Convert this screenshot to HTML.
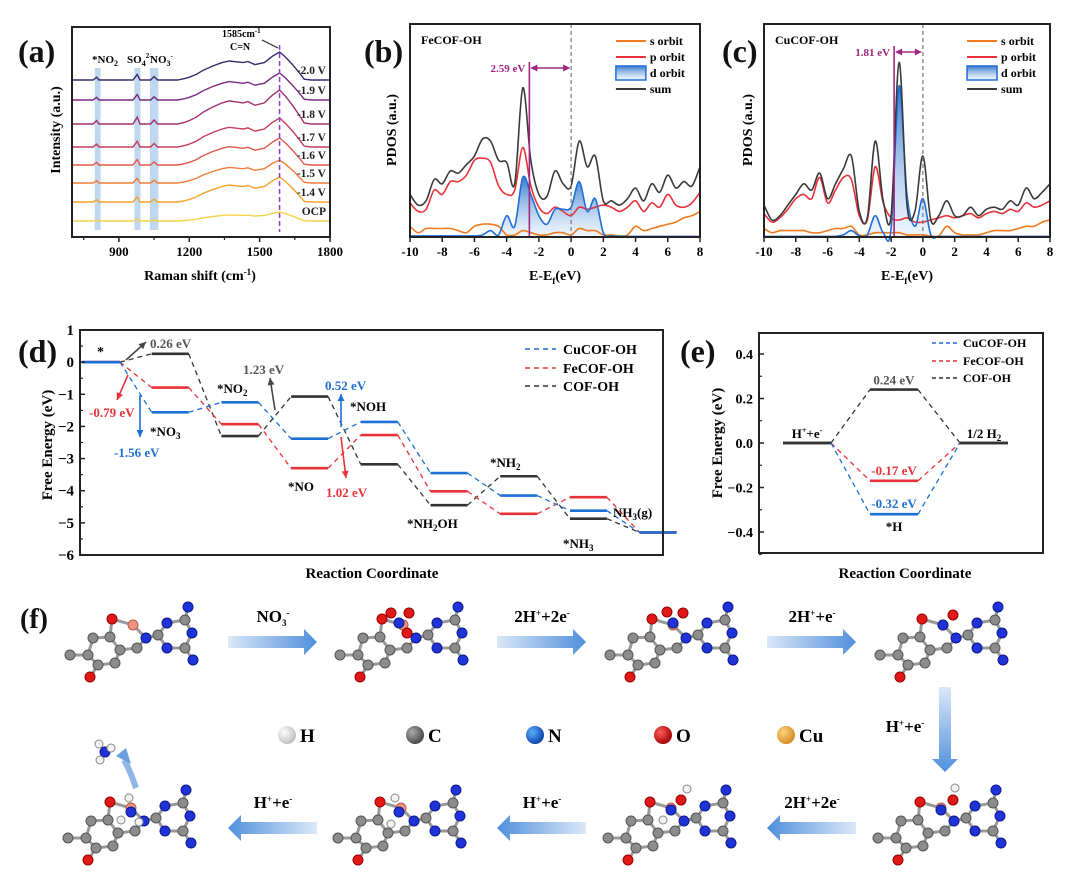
<!DOCTYPE html>
<html><head><meta charset="utf-8">
<style>
html,body{margin:0;padding:0;background:#fff;}
svg{display:block;font-family:"Liberation Serif",serif;font-weight:bold;}
</style></head>
<body>
<svg id="fig" width="1080" height="879" viewBox="0 0 1080 879" xmlns="http://www.w3.org/2000/svg">
<defs>
<linearGradient id="dgrad" x1="0" y1="0" x2="0" y2="1"><stop offset="0" stop-color="#2f74d0" stop-opacity="0.95"/><stop offset="1" stop-color="#e3eefb" stop-opacity="0.5"/></linearGradient>
<linearGradient id="arR" x1="0" y1="0" x2="1" y2="0"><stop offset="0" stop-color="#dbe8f8"/><stop offset="1" stop-color="#4f8fdc"/></linearGradient>
<linearGradient id="arL" x1="1" y1="0" x2="0" y2="0"><stop offset="0" stop-color="#dbe8f8"/><stop offset="1" stop-color="#4f8fdc"/></linearGradient>
<linearGradient id="arD" x1="0" y1="0" x2="0" y2="1"><stop offset="0" stop-color="#dbe8f8"/><stop offset="1" stop-color="#4f8fdc"/></linearGradient>
<radialGradient id="sH" cx="0.35" cy="0.35" r="0.7"><stop offset="0" stop-color="#fff"/><stop offset="1" stop-color="#bbb"/></radialGradient>
<radialGradient id="sC" cx="0.35" cy="0.35" r="0.7"><stop offset="0" stop-color="#aaa"/><stop offset="1" stop-color="#444"/></radialGradient>
<radialGradient id="sN" cx="0.35" cy="0.35" r="0.7"><stop offset="0" stop-color="#5ab0ff"/><stop offset="1" stop-color="#0a3fa8"/></radialGradient>
<radialGradient id="sO" cx="0.35" cy="0.35" r="0.7"><stop offset="0" stop-color="#ff5a5a"/><stop offset="1" stop-color="#a00000"/></radialGradient>
<radialGradient id="sCu" cx="0.35" cy="0.35" r="0.7"><stop offset="0" stop-color="#ffd27a"/><stop offset="1" stop-color="#d08a20"/></radialGradient>
</defs>
</svg>
<script>
// ---------- DATA ----------
// (a) Raman
const ramanX = [700,790,805,815,960,978,990,1035,1050,1065,1150,1180,1200,1230,1260,1300,1340,1370,1400,1430,1450,1480,1520,1555,1585,1610,1640,1670,1690,1720,1800];
const ramanProfile = [0,0,0.1,0,0,0.2,0,0,0.12,0,0,0.05,0.1,0.2,0.35,0.5,0.62,0.68,0.65,0.62,0.66,0.55,0.62,0.85,1.0,0.82,0.55,0.25,0.03,0,0];
const ramanLabels = ["OCP","-1.4 V","-1.5 V","-1.6 V","-1.7 V","-1.8 V","-1.9 V","-2.0 V"];
const ramanOffsets = [16,35,54,72,90,113,137,157];
const ramanAmps = [9,25,23,27,29,34,27,28];
const ramanColors = ["#f3d24a","#f4a12a","#ef7d38","#e0584a","#c43e5c","#a33070","#7a2a80","#3b2a6e"];
const ramanTicks = [900,1200,1500,1800];
// (b),(c) PDOS
const pdosE = [-10,-9.5,-9,-8.5,-8,-7.5,-7,-6.5,-6,-5.5,-5,-4.5,-4,-3.5,-3,-2.5,-2,-1.5,-1,-0.5,0,0.5,1,1.5,2,2.5,3,3.5,4,4.5,5,5.5,6,6.5,7,7.5,8];
const feSum = [20,15,17,27,25,31,30,34,38,46,45,36,35,25,70,36,20,19,31,25,24,45,33,38,17,17,15,18,23,17,25,21,29,23,26,24,33];
const feP = [16,12,13,22,20,26,26,29,36,37,35,24,20,22,42,24,14,11,14,12,10,14,13,14,15,14,12,14,17,12,16,14,20,15,14,16,21];
const feS = [5,2,4,4,4,4,3,2,5,6,6,5,1,1,3,2,1,1,2,2,1,4,3,3,1,1,0.5,1,5,3,4,5,6,7,9,10,12];
const feD = [0.5,0.5,0.5,0.5,0.5,0.5,0.5,0.5,0.5,1,3,1,10,5,28,20,10,6,13,13,14,26,12,18,2,0.5,0.3,0.3,0.3,0.3,0.3,0.3,0.3,0.3,0.3,0.3,0.3];
const cuSum = [15,8,10,15,20,25,22,30,18,25,32,38,12,9,45,17,10,82,15,12,38,8,10,17,10,10,14,10,13,14,13,17,15,23,18,21,25];
const cuP = [11,7,9,13,18,20,18,28,16,22,28,27,10,8,33,16,9,8,9,7,7,8,9,10,9,10,11,9,11,12,11,13,12,16,14,15,17];
const cuS = [4,2,3,3,3,3,2,2,3,4,4,5,1,1,2,2,2,2,1,1,1,0.5,0.5,5,2,1,1,1,2,3,3,3,4,5,5,7,8];
const cuD = [0.3,0.3,0.3,0.3,0.3,0.3,0.3,0.3,0.3,0.3,1,3,0.5,1,10,2,4,71,20,5,18,1,0.3,0.3,0.3,0.3,0.3,0.3,0.3,0.3,0.3,0.3,0.3,0.3,0.3,0.3,0.3];
const dBandFe = -2.59;
const dBandCu = -1.81;
const pdosTicks = [-10,-8,-6,-4,-2,0,2,4,6,8];
// (d) free energy NO3RR
const stepNames = ["*","*NO3","*NO2","*NO","*NOH","*NH2OH","*NH2","*NH3","NH3(g)"];
const cuG = [0,-1.56,-1.25,-2.38,-1.86,-3.45,-4.15,-4.62,-5.3];
const feG = [0,-0.79,-1.93,-3.3,-2.27,-4.02,-4.72,-4.2,-5.3];
const cofG = [0,0.26,-2.3,-1.07,-3.18,-4.45,-3.55,-4.87,-5.3];
const dTicks = [1,0,-1,-2,-3,-4,-5,-6];
// (e) HER
const herCu = [0,-0.32,0];
const herFe = [0,-0.17,0];
const herCof = [0,0.24,0];
const eTicks = [0.4,0.2,0.0,-0.2,-0.4];

// ---------- HELPERS ----------
const svg = document.getElementById('fig');
const NS = 'http://www.w3.org/2000/svg';
function mk(tag, attrs, parent){
  const el = document.createElementNS(NS, tag);
  for (const k in attrs) el.setAttribute(k, attrs[k]);
  (parent||svg).appendChild(el);
  return el;
}
function tag(el, name, inter){
  
  
  return el;
}
function txt(x,y,s,size,opts,name){
  const t = mk('text', Object.assign({x:x,y:y,'font-size':size}, opts||{}));
  t.innerHTML = s;
  tag(t, name||'label');
  return t;
}
function lin(d0,d1,r0,r1){ return v => r0 + (v-d0)*(r1-r0)/(d1-d0); }
function frame(x0,y0,x1,y1,name){
  const r = mk('rect',{x:x0,y:y0,width:x1-x0,height:y1-y0,fill:'none',stroke:'#222','stroke-width':2});
  tag(r, name);
}
function smooth(pts){
  let d = 'M'+pts[0][0].toFixed(1)+','+pts[0][1].toFixed(1);
  for(let i=0;i<pts.length-1;i++){
    const p0=pts[i-1]||pts[i], p1=pts[i], p2=pts[i+1], p3=pts[i+2]||p2;
    const c1x=p1[0]+(p2[0]-p0[0])/6, c1y=p1[1]+(p2[1]-p0[1])/6;
    const c2x=p2[0]-(p3[0]-p1[0])/6, c2y=p2[1]-(p3[1]-p1[1])/6;
    d += 'C'+c1x.toFixed(1)+','+c1y.toFixed(1)+' '+c2x.toFixed(1)+','+c2y.toFixed(1)+' '+p2[0].toFixed(1)+','+p2[1].toFixed(1);
  }
  return d;
}

// ---------- PANEL LABELS ----------
[['(a)',18,62,32],['(b)',364,62,32],['(c)',722,62,32],['(d)',18,362,32],['(e)',680,362,32],['(f)',20,628,28]].forEach(p=>{
  txt(p[1],p[2],p[0],p[3],{fill:'#111'},'panel-label');
});

// ---------- (a) RAMAN ----------
(function(){
  const g = mk('g',{}); tag(g,'raman-chart');
  const X0=72,X1=330,Y0=27,Y1=237;
  const sx = lin(700,1800,X0,X1);
  const sy = v => Y1 - v;
  [[797,822],[966,992],[1032,1068]].forEach((b,i)=>{
    const r = mk('rect',{x:sx(b[0]),y:68,width:sx(b[1])-sx(b[0]),height:162,fill:'#a9c9ea',opacity:0.75},g);
    tag(r,'raman-band-'+i);
  });
  ramanLabels.forEach((lab,i)=>{
    let d='';
    ramanX.forEach((w,j)=>{
      d += (j?'L':'M') + sx(w).toFixed(1) + ',' + sy(ramanOffsets[i] + ramanAmps[i]*ramanProfile[j]).toFixed(1);
    });
    const p = mk('path',{d:d,fill:'none',stroke:ramanColors[i],'stroke-width':1.4},g);
    tag(p,'raman-spectrum');
    txt(326, sy(ramanOffsets[i])-6, lab, 11.5, {'text-anchor':'end',fill:'#222'}, 'voltage-label');
  });
  const dl = mk('line',{x1:sx(1585),x2:sx(1585),y1:45,y2:232,stroke:'#8a3fd0','stroke-width':1.5,'stroke-dasharray':'5,3'},g);
  tag(dl,'cn-peak-line');
  frame(X0,Y0,X1,Y1,'raman-frame');
  ramanTicks.forEach(v=>{
    const l = mk('line',{x1:sx(v),x2:sx(v),y1:Y1,y2:Y1+5,stroke:'#222','stroke-width':1.5},g); tag(l,'x-tick');
    txt(sx(v),Y1+19,v,13,{'text-anchor':'middle'},'x-tick-label');
  });
  [750,1050,1350,1650].forEach(v=>{
    const l = mk('line',{x1:sx(v),x2:sx(v),y1:Y1,y2:Y1+3,stroke:'#222','stroke-width':1.2},g); tag(l,'x-minor-tick');
  });
  txt(200,280,'Raman shift (cm<tspan dy="-5" font-size="9">-1</tspan><tspan dy="5">)</tspan>',14,{'text-anchor':'middle'},'x-axis-title');
  txt(0,0,'Intensity (a.u.)',14,{'text-anchor':'middle',transform:'translate(60,130) rotate(-90)'},'y-axis-title');
  txt(92,63,'*NO<tspan font-size="8" dy="3">2</tspan>',11,{},'no2-label');
  txt(127,63,'SO<tspan font-size="8" dy="3">4</tspan><tspan font-size="7" dy="-8">2-</tspan>',11,{},'so4-label');
  txt(150,63,'NO<tspan font-size="8" dy="3">3</tspan><tspan font-size="7" dy="-8">-</tspan>',11,{},'no3-label');
  txt(222,37,'1585cm<tspan font-size="7" dy="-4">-1</tspan>',10,{},'peak-label');
  txt(230,50,'C=N',10,{},'cn-label');
  const ar = mk('line',{x1:262,y1:40,x2:278,y2:48,stroke:'#222','stroke-width':1},g); tag(ar,'peak-arrow');
})();

// ---------- (b),(c) PDOS ----------
function pdos(X0,X1,title,sumA,pA,sA,dA,dband,name,ytitleX){
  const g = mk('g',{}); tag(g,name);
  const Y0=24,Y1=237;
  const sx = lin(-10,8,X0,X1);
  const sy = lin(0,100,Y1,Y0);
  function path(arr){ return smooth(pdosE.map((e,i)=>[sx(e), Math.min(Y1, sy(arr[i]))])); }
  const fill = mk('path',{d:path(dA)+'L'+sx(8)+','+sy(0)+'L'+sx(-10)+','+sy(0)+'Z',fill:'url(#dgrad)',stroke:'none'},g); tag(fill,'d-orbit-fill');
  const sl = mk('path',{d:path(sA),fill:'none',stroke:'#f07a1e','stroke-width':1.6},g); tag(sl,'s-orbit-line');
  const pl = mk('path',{d:path(pA),fill:'none',stroke:'#e8323a','stroke-width':1.6},g); tag(pl,'p-orbit-line');
  const dl = mk('path',{d:path(dA),fill:'none',stroke:'#1e6fd6','stroke-width':1.6},g); tag(dl,'d-orbit-line');
  const su = mk('path',{d:path(sumA),fill:'none',stroke:'#3a3a3a','stroke-width':1.6},g); tag(su,'sum-line');
  const fl = mk('line',{x1:sx(0),x2:sx(0),y1:Y0,y2:Y1,stroke:'#777','stroke-width':1.2,'stroke-dasharray':'4,3'},g); tag(fl,'fermi-level-line');
  const topY = name==='pdos-fe'?62:46;
  const bl = mk('line',{x1:sx(dband),x2:sx(dband),y1:topY,y2:Y1,stroke:'#a0267e','stroke-width':1.6},g); tag(bl,'d-band-center-line');
  const ay = topY+6;
  const al = mk('line',{x1:sx(dband)+2,x2:sx(0)-2,y1:ay,y2:ay,stroke:'#a0267e','stroke-width':1.5},g); tag(al,'d-band-arrow');
  const h1 = mk('path',{d:`M${sx(dband)+1},${ay}l7,-3.5v7z`,fill:'#a0267e'},g); tag(h1,'arrow-head');
  const h2 = mk('path',{d:`M${sx(0)-1},${ay}l-7,-3.5v7z`,fill:'#a0267e'},g); tag(h2,'arrow-head');
  txt(sx(dband)-4,ay+4,Math.abs(dband).toFixed(2)+' eV',11,{'text-anchor':'end',fill:'#a0267e'},'d-band-value');
  frame(X0,Y0,X1,Y1,name+'-frame');
  pdosTicks.forEach(v=>{
    const l = mk('line',{x1:sx(v),x2:sx(v),y1:Y1,y2:Y1+5,stroke:'#222','stroke-width':1.5},g); tag(l,'x-tick');
    txt(sx(v),Y1+19,v,13,{'text-anchor':'middle'},'x-tick-label');
  });
  txt((X0+X1)/2,280,'E-E<tspan font-size="9" dy="4">f</tspan><tspan dy="-4">(eV)</tspan>',14,{'text-anchor':'middle'},'x-axis-title');
  txt(0,0,'PDOS (a.u.)',14,{'text-anchor':'middle',transform:`translate(${ytitleX},130) rotate(-90)`},'y-axis-title');
  txt(X0+11,44,title,12,{},'system-label');
  const lx = X0+(X1-X0)*0.71;
  const ls = mk('line',{x1:lx,x2:lx+30,y1:41,y2:41,stroke:'#f07a1e','stroke-width':2},g); tag(ls,'legend-s-swatch');
  txt(lx+34,45,'s orbit',12,{},'legend-s');
  const lp = mk('line',{x1:lx,x2:lx+30,y1:57,y2:57,stroke:'#e8323a','stroke-width':2},g); tag(lp,'legend-p-swatch');
  txt(lx+34,61,'p orbit',12,{},'legend-p');
  const ld = mk('rect',{x:lx,y:66,width:30,height:14,fill:'url(#dgrad)',stroke:'#1e6fd6','stroke-width':1.5},g); tag(ld,'legend-d-swatch');
  txt(lx+34,77,'d orbit',12,{},'legend-d');
  const lsum = mk('line',{x1:lx,x2:lx+30,y1:89,y2:89,stroke:'#3a3a3a','stroke-width':2},g); tag(lsum,'legend-sum-swatch');
  txt(lx+34,93,'sum',12,{},'legend-sum');
}
pdos(410,700,'FeCOF-OH',feSum,feP,feS,feD,dBandFe,'pdos-fe',396);
pdos(764,1050,'CuCOF-OH',cuSum,cuP,cuS,cuD,dBandCu,'pdos-cu',752);

// ---------- (d) FREE ENERGY ----------
(function(){
  const g = mk('g',{}); tag(g,'free-energy-chart');
  const X0=80,X1=663,Y0=330,Y1=555;
  const sy = lin(1,-6,Y0,Y1);
  const stepW = 69.7, lvlW = 37;
  const xs = i => 82 + i*stepW;
  const series = [[cofG,'#333','cof'],[feG,'#e8323a','fe'],[cuG,'#1e6fd6','cu']];
  series.forEach(s=>{
    const arr=s[0];
    arr.forEach((v,i)=>{
      const w = (i===0)? 38 : lvlW;
      const l = mk('line',{x1:xs(i),x2:xs(i)+w,y1:sy(v),y2:sy(v),stroke:s[1],'stroke-width':2.6},g); tag(l,'level-'+s[2]);
      if(i<arr.length-1){
        const c = mk('line',{x1:xs(i)+w,y1:sy(v),x2:xs(i+1),y2:sy(arr[i+1]),stroke:s[1],'stroke-width':1.3,'stroke-dasharray':'5,4'},g); tag(c,'connector-'+s[2]);
      }
    });
  });
  frame(X0,Y0,X1,Y1,'free-energy-frame');
  dTicks.forEach(v=>{
    const l = mk('line',{x1:X0,x2:X0+5,y1:sy(v),y2:sy(v),stroke:'#222','stroke-width':1.5},g); tag(l,'y-tick');
    txt(X0-6,sy(v)+5,v===0?'0':(v>0?v:'\u2212'+Math.abs(v)),15,{'text-anchor':'end'},'y-tick-label');
    if(v>-6){ const m = mk('line',{x1:X0,x2:X0+3,y1:sy(v-0.5),y2:sy(v-0.5),stroke:'#222','stroke-width':1.2},g); tag(m,'y-minor-tick'); }
  });
  txt(372,578,'Reaction Coordinate',15,{'text-anchor':'middle'},'x-axis-title');
  txt(0,0,'Free Energy (eV)',15,{'text-anchor':'middle',transform:'translate(52,445) rotate(-90)'},'y-axis-title');
  [['CuCOF-OH','#1e6fd6',349],['FeCOF-OH','#e8323a',368],['COF-OH','#333',386]].forEach(e=>{
    const l = mk('line',{x1:525,x2:556,y1:e[2],y2:e[2],stroke:e[1],'stroke-width':1.5,'stroke-dasharray':'5,4'},g); tag(l,'legend-swatch');
    txt(563,e[2]+5,e[0],14,{},'legend-entry');
  });
  const A = (x1,y1,x2,y2,c)=>{ const l=mk('line',{x1:x1,y1:y1,x2:x2,y2:y2,stroke:c,'stroke-width':1.6},g); tag(l,'annotation-arrow');
    const ang=Math.atan2(y2-y1,x2-x1); const h=mk('path',{d:`M${x2},${y2}L${x2-7*Math.cos(ang)+3.5*Math.sin(ang)},${y2-7*Math.sin(ang)-3.5*Math.cos(ang)}L${x2-7*Math.cos(ang)-3.5*Math.sin(ang)},${y2-7*Math.sin(ang)+3.5*Math.cos(ang)}Z`,fill:c},g); tag(h,'arrow-head'); };
  A(126,360,146,342,'#444'); A(128,375,117,400,'#e8323a'); A(140,395,140,437,'#1e6fd6');
  A(275,410,270,378,'#444'); A(341,427,341,394,'#1e6fd6'); A(341,437,346,478,'#e8323a');
  txt(97,356,'*',14,{},'step-label');
  txt(150,348,'0.26 eV',13,{fill:'#555'},'energy-label');
  txt(89,417,'-0.79 eV',13,{fill:'#e8323a'},'energy-label');
  txt(114,457,'-1.56 eV',13,{fill:'#1e6fd6'},'energy-label');
  txt(150,436,'*NO<tspan font-size="9" dy="3">3</tspan>',13,{},'step-label');
  txt(217,393,'*NO<tspan font-size="9" dy="3">2</tspan>',13,{},'step-label');
  txt(243,374,'1.23 eV',13,{fill:'#555'},'energy-label');
  txt(325,390,'0.52 eV',13,{fill:'#1e6fd6'},'energy-label');
  txt(350,411,'*NOH',13,{},'step-label');
  txt(288,491,'*NO',13,{},'step-label');
  txt(326,497,'1.02 eV',13,{fill:'#e8323a'},'energy-label');
  txt(490,467,'*NH<tspan font-size="9" dy="3">2</tspan>',13,{},'step-label');
  txt(407,528,'*NH<tspan font-size="9" dy="3">2</tspan><tspan dy="-3">OH</tspan>',13,{},'step-label');
  txt(563,548,'*NH<tspan font-size="9" dy="3">3</tspan>',13,{},'step-label');
  txt(613,517,'NH<tspan font-size="9" dy="3">3</tspan><tspan dy="-3">(g)</tspan>',13,{},'step-label');
})();

// ---------- (e) HER ----------
(function(){
  const g = mk('g',{}); tag(g,'her-chart');
  const X0=759,X1=1043,Y0=333,Y1=553;
  const sy = lin(0,0.4,443,354);
  const lx = [783,870,960], lw = 48;
  [[herCof,'#333','cof'],[herFe,'#e8323a','fe'],[herCu,'#1e6fd6','cu']].forEach(s=>{
    s[0].forEach((v,i)=>{
      const l = mk('line',{x1:lx[i],x2:lx[i]+lw,y1:sy(v),y2:sy(v),stroke:(i===1?s[1]:'#333'),'stroke-width':2.6},g); tag(l,'her-level-'+s[2]);
      if(i<2){ const c = mk('line',{x1:lx[i]+lw,y1:sy(v),x2:lx[i+1],y2:sy(s[0][i+1]),stroke:s[1],'stroke-width':1.3,'stroke-dasharray':'5,4'},g); tag(c,'her-connector-'+s[2]); }
    });
  });
  frame(X0,Y0,X1,Y1,'her-frame');
  eTicks.forEach(v=>{
    const l = mk('line',{x1:X0,x2:X0+5,y1:sy(v),y2:sy(v),stroke:'#222','stroke-width':1.5},g); tag(l,'y-tick');
    txt(X0-6,sy(v)+5,(v<0?'\u2212':'')+Math.abs(v).toFixed(1),14,{'text-anchor':'end'},'y-tick-label');
    const m = mk('line',{x1:X0,x2:X0+3,y1:sy(v-0.1),y2:sy(v-0.1),stroke:'#222','stroke-width':1.2},g); tag(m,'y-minor-tick');
  });
  txt(905,578,'Reaction Coordinate',15,{'text-anchor':'middle'},'x-axis-title');
  txt(0,0,'Free Energy (eV)',15,{'text-anchor':'middle',transform:'translate(722,443) rotate(-90)'},'y-axis-title');
  [['CuCOF-OH','#1e6fd6',343],['FeCOF-OH','#e8323a',361],['COF-OH','#333',378]].forEach(e=>{
    const l = mk('line',{x1:932,x2:959,y1:e[2],y2:e[2],stroke:e[1],'stroke-width':1.5,'stroke-dasharray':'4,3'},g); tag(l,'legend-swatch');
    txt(963,e[2]+4,e[0],12,{},'legend-entry');
  });
  txt(807,438,'H<tspan font-size="8" dy="-5">+</tspan><tspan dy="5">+e</tspan><tspan font-size="8" dy="-5">-</tspan>',13,{'text-anchor':'middle'},'reactant-label');
  txt(984,438,'1/2 H<tspan font-size="9" dy="3">2</tspan>',13,{'text-anchor':'middle'},'product-label');
  txt(894,sy(herCof[1])-5,herCof[1].toFixed(2)+' eV',13,{'text-anchor':'middle',fill:'#555'},'energy-label');
  txt(894,sy(herFe[1])-6,herFe[1].toFixed(2)+' eV',13,{'text-anchor':'middle',fill:'#e8323a'},'energy-label');
  txt(894,sy(herCu[1])-6,herCu[1].toFixed(2)+' eV',13,{'text-anchor':'middle',fill:'#1e6fd6'},'energy-label');
  txt(894,sy(herCu[1])+17,'*H',13,{'text-anchor':'middle'},'adsorbate-label');
})();

// ---------- (f) MECHANISM ----------
(function(){
  const g = mk('g',{}); tag(g,'mechanism-scheme');
  const col = {C:['#8c8c8c','#555'],N:['#1f33d6','#0c1a90'],O:['#e01818','#900'],H:['#f2f2f2','#888'],Cu:['#ee9580','#b85a48']};
  const atoms = [['C',1,52],['C',19,52],['C',24,35],['C',41,34],['C',51,47],['C',46,60],['C',29,62],['O',21,74],['O',43,16],['Cu',64,22],['C',68,45],['N',77,35],
    ['N',98,20],['C',116,17],['N',123,30],['C',116,45],['N',98,45],['C',89,32],['N',119,4],['N',124,57]];
  const bonds = [[0,1],[1,2],[2,3],[3,4],[4,5],[5,6],[6,1],[6,7],[3,8],[8,9],[9,11],[4,10],[10,11],[11,17],[12,13],[13,14],[14,15],[15,16],[16,17],[17,12],[13,18],[15,19]];
  const extras = [
    [],
    [['N',60,20],['O',52,10],['O',70,10],['O',68,30]],
    [['N',64,20],['O',58,9],['O',74,10]],
    [['N',64,22],['O',74,12]],
    [['N',64,24],['O',76,14],['H',78,2]],
    [['N',64,24],['O',74,14],['H',80,3],['H',56,34]],
    [['N',62,26],['H',58,12],['H',54,38]],
    [['N',64,26],['H',62,12],['H',54,34],['H',72,36]]
  ];
  const pos = [[69,603],[339,603],[609,603],[879,603],[877,786],[607,786],[337,786],[67,786]];
  pos.forEach((p,m)=>{
    const mg = mk('g',{transform:`translate(${p[0]},${p[1]})`},g); tag(mg,'molecule-'+(m+1));
    bonds.forEach(b=>{ const a=atoms[b[0]], c=atoms[b[1]];
      const l = mk('line',{x1:a[1],y1:a[2],x2:c[1],y2:c[2],stroke:'#999','stroke-width':3},mg); tag(l,'bond'); });
    atoms.concat(extras[m]).forEach(a=>{
      const r = (a[0]==='H')?4:5;
      const c = mk('circle',{cx:a[1],cy:a[2],r:r,fill:col[a[0]][0],stroke:col[a[0]][1],'stroke-width':1},mg); tag(c,'atom-'+a[0]);
    });
  });
  const nh = mk('g',{transform:'translate(105,752)'},g); tag(nh,'nh3-molecule');
  [['H',-6,-8],['H',6,-4],['H',-5,8]].forEach(a=>{ const l=mk('line',{x1:0,y1:0,x2:a[1],y2:a[2],stroke:'#999','stroke-width':2.5},nh); tag(l,'bond'); });
  const nc = mk('circle',{cx:0,cy:0,r:5,fill:col.N[0],stroke:col.N[1]},nh); tag(nc,'atom-N');
  [['H',-6,-8],['H',6,-4],['H',-5,8]].forEach(a=>{ const c=mk('circle',{cx:a[1],cy:a[2],r:4,fill:col.H[0],stroke:col.H[1]},nh); tag(c,'atom-H'); });
  const cur = mk('path',{d:'M136,788 Q130,770 124,760',fill:'none',stroke:'#8fb6e6','stroke-width':6},g); tag(cur,'release-arrow');
  const curh = mk('path',{d:'M116,756 L126,748 L131,764 Z',fill:'#6d9fe0'},g); tag(curh,'arrow-head');
  const topArrows = [[228,'NO<tspan font-size="9" dy="4">3</tspan><tspan font-size="9" dy="-10">-</tspan>'],[497,'2H<tspan font-size="9" dy="-6">+</tspan><tspan dy="6">+2e</tspan><tspan font-size="9" dy="-6">-</tspan>'],[767,'2H<tspan font-size="9" dy="-6">+</tspan><tspan dy="6">+e</tspan><tspan font-size="9" dy="-6">-</tspan>']];
  topArrows.forEach(a=>{
    const b = mk('path',{d:`M${a[0]},636h76v-7l13,13l-13,13v-7h-76z`,fill:'url(#arR)'},g); tag(b,'reaction-arrow');
    txt(a[0]+45,622,a[1],17,{'text-anchor':'middle'},'reaction-condition');
  });
  const botArrows = [[228,'H<tspan font-size="9" dy="-6">+</tspan><tspan dy="6">+e</tspan><tspan font-size="9" dy="-6">-</tspan>'],[497,'H<tspan font-size="9" dy="-6">+</tspan><tspan dy="6">+e</tspan><tspan font-size="9" dy="-6">-</tspan>'],[767,'2H<tspan font-size="9" dy="-6">+</tspan><tspan dy="6">+2e</tspan><tspan font-size="9" dy="-6">-</tspan>']];
  botArrows.forEach(a=>{
    const b = mk('path',{d:`M${a[0]+89},822h-76v-7l-13,13l13,13v-7h76z`,fill:'url(#arL)'},g); tag(b,'reaction-arrow');
    txt(a[0]+45,808,a[1],17,{'text-anchor':'middle'},'reaction-condition');
  });
  const v = mk('path',{d:'M939,687v72h-7l13,13l13,-13h-7v-72z',fill:'url(#arD)'},g); tag(v,'reaction-arrow');
  txt(905,732,'H<tspan font-size="9" dy="-6">+</tspan><tspan dy="6">+e</tspan><tspan font-size="9" dy="-6">-</tspan>',17,{'text-anchor':'middle'},'reaction-condition');
  [['H','sH',287],['C','sC',415],['N','sN',535],['O','sO',663],['Cu','sCu',786]].forEach(e=>{
    const c = mk('circle',{cx:e[2],cy:735,r:9,fill:`url(#${e[1]})`},g); tag(c,'legend-atom-'+e[0]);
    txt(e[2]+13,742,e[0],19,{},'legend-atom-label');
  });
})();
</script>
</body></html>
